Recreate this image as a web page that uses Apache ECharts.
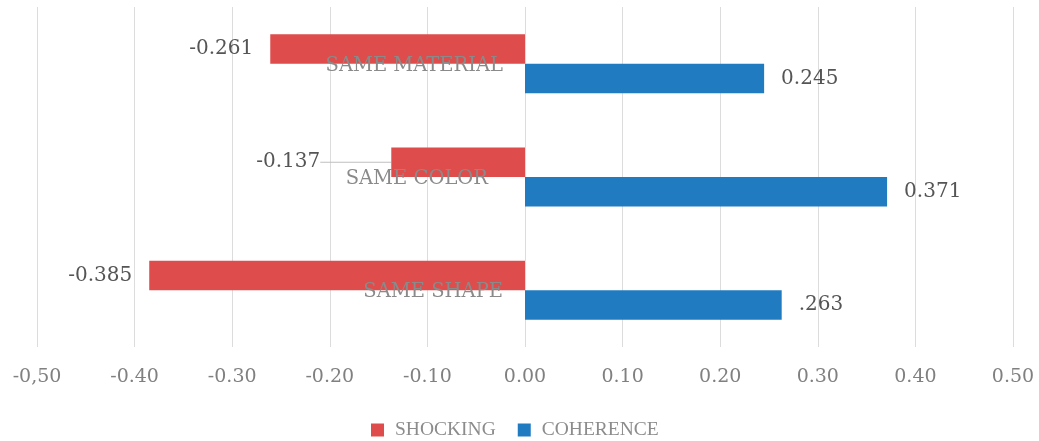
<!DOCTYPE html>
<html>
<head>
<meta charset="utf-8">
<script src="https://cdn.jsdelivr.net/npm/echarts@6/dist/echarts.min.js"></script>
<style>
  html, body { margin: 0; padding: 0; background: #ffffff; }
  #chart { width: 1039px; height: 441px; }
</style>
</head>
<body>
<div id="chart"></div>
<script>
// Categories, listed top to bottom
const categories = ['SAME MATERIAL', 'SAME COLOR', 'SAME SHAPE'];
// Correlation values per category
const shocking = [-0.261, -0.137, -0.385];
const coherence = [0.245, 0.371, 0.263];
// Data label texts as printed next to each bar
const shockingLabels = ['-0.261', '-0.137', '-0.385'];
const coherenceLabels = ['0.245', '0.371', '.263'];
// Value axis tick labels from -0.5 to 0.5
const tickLabels = ['-0,50', '-0.40', '-0.30', '-0.20', '-0.10', '0.00', '0.10', '0.20', '0.30', '0.40', '0.50'];

const serif = '"DejaVu Serif", serif';
const gridLeft = 37;
const gridRight = 26;
const chartWidth = 1039;

const chart = echarts.init(document.getElementById('chart'), null, { renderer: 'canvas' });

// Horizontal pixel distance from the grid's left edge to the zero line,
// used to pull the category axis onto x = 0.
const plotWidth = chartWidth - gridLeft - gridRight;
const zeroShift = plotWidth * (0 - (-0.5)) / (0.5 - (-0.5));

const option = {
  backgroundColor: '#ffffff',
  animation: false,
  grid: {
    left: gridLeft, right: gridRight, top: 7, bottom: 94,
    containLabel: false,
    outerBoundsMode: 'none'
  },
  legend: {
    data: ['SHOCKING', 'COHERENCE'],
    left: 366,
    top: 415,
    icon: 'rect',
    itemWidth: 13,
    itemHeight: 13,
    itemGap: 22,
    textStyle: {
      fontFamily: '"Liberation Serif", serif',
      fontSize: 19.5,
      color: '#8c8c8c',
      padding: [0, 0, 0, 6]
    }
  },
  xAxis: {
    type: 'value',
    min: -0.5,
    max: 0.5,
    interval: 0.1,
    axisLine: { show: false },
    axisTick: { show: false },
    splitLine: { show: true, lineStyle: { color: '#dcdcdc', width: 1 } },
    axisLabel: {
      margin: 21,
      fontFamily: serif,
      fontSize: 19,
      color: '#808080',
      formatter: function (v) {
        const i = Math.round((v + 0.5) * 10);
        return tickLabels[i] !== undefined ? tickLabels[i] : '';
      }
    }
  },
  yAxis: {
    type: 'category',
    data: categories,
    inverse: true,
    position: 'left',
    offset: -zeroShift,
    axisLine: { show: false },
    axisTick: { show: false },
    splitLine: { show: false },
    z: 10,
    axisLabel: {
      margin: 22,
      fontFamily: serif,
      fontSize: 19.5,
      color: '#8a8a8a',
      formatter: function (v) {
        return v === 'SAME COLOR' ? '{shift|' + v + '}' : '{base|' + v + '}';
      },
      rich: {
        base: {
          fontFamily: serif,
          fontSize: 19.5,
          color: '#8a8a8a',
          padding: [4, 0, 0, 0]
        },
        shift: {
          fontFamily: serif,
          fontSize: 19.5,
          color: '#8a8a8a',
          padding: [4, 15, 0, 0]
        }
      }
    }
  },
  series: [
    {
      name: 'SHOCKING',
      type: 'bar',
      barWidth: 29.5,
      barGap: '0%',
      itemStyle: { color: '#de4c4b' },
      data: shocking.map(function (v, i) {
        const item = { value: v };
        if (i === 1) {
          item.labelLine = { show: true, lineStyle: { color: '#bfbfbf', width: 1.2 } };
        }
        return item;
      }),
      label: {
        show: true,
        position: 'left',
        distance: 17,
        fontFamily: serif,
        fontSize: 20,
        color: '#555555',
        formatter: function (p) { return shockingLabels[p.dataIndex]; }
      },
      labelLayout: function (params) {
        if (params.dataIndex === 1) {
          return { dx: -54 };
        }
        return {};
      }
    },
    {
      name: 'COHERENCE',
      type: 'bar',
      barWidth: 29.5,
      barGap: '0%',
      itemStyle: { color: '#217bc1' },
      data: coherence,
      label: {
        show: true,
        position: 'right',
        distance: 17,
        fontFamily: serif,
        fontSize: 20,
        color: '#555555',
        formatter: function (p) { return coherenceLabels[p.dataIndex]; }
      }
    }
  ]
};

chart.setOption(option);
</script>
</body>
</html>
